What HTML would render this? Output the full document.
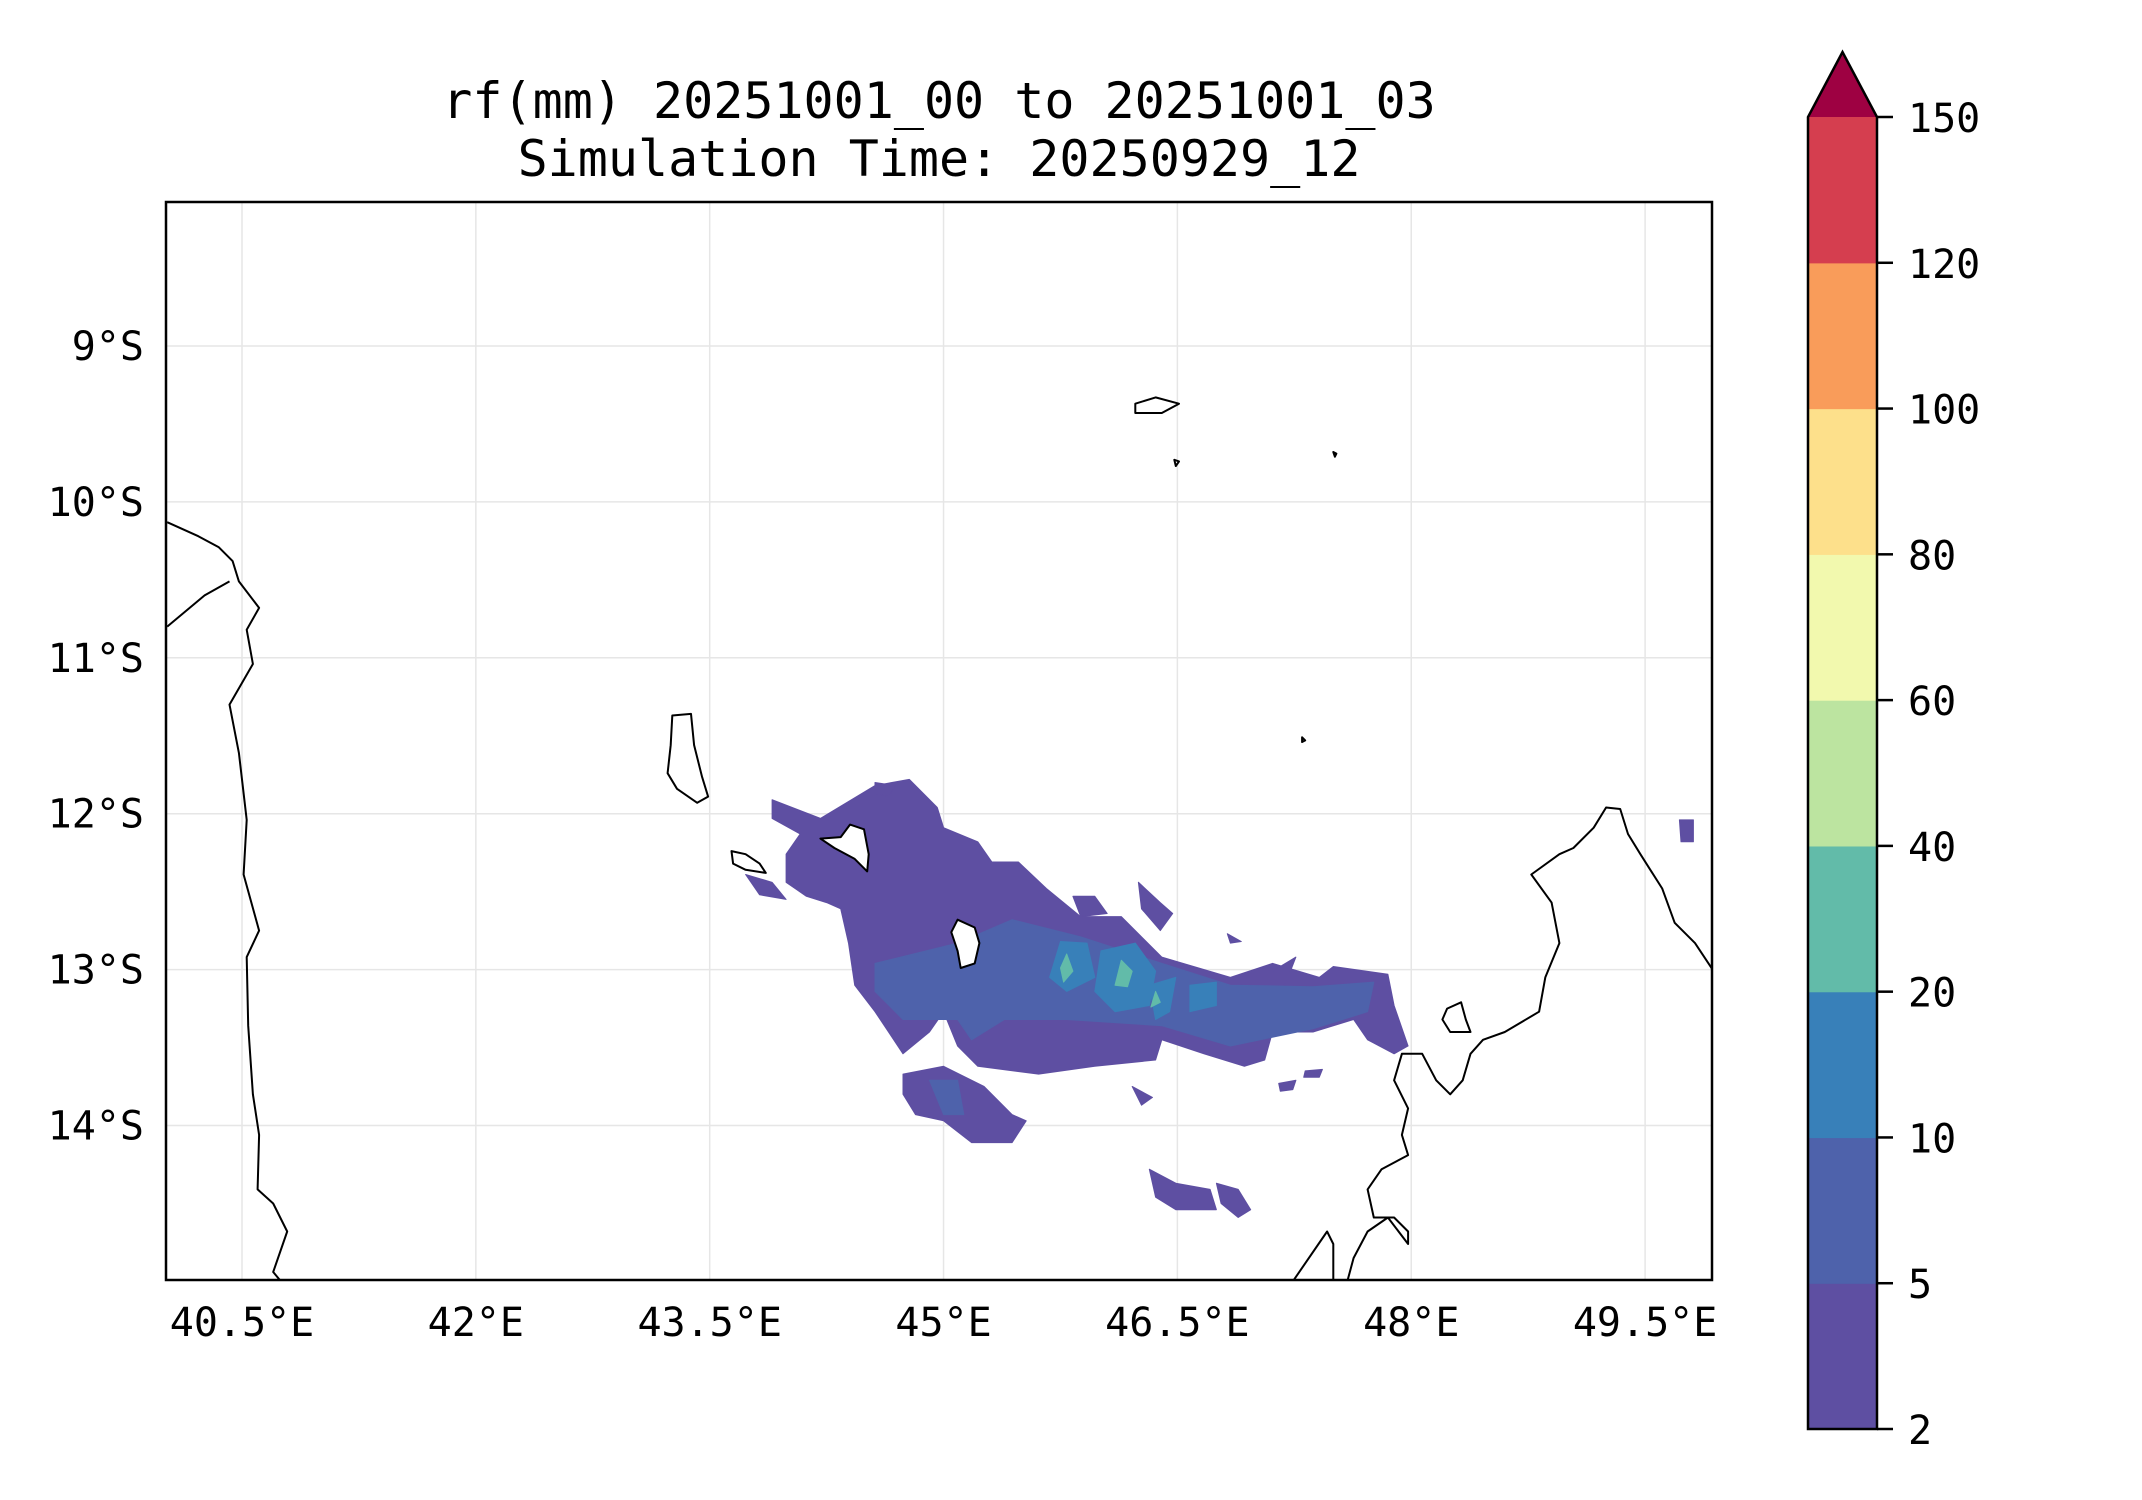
<!DOCTYPE html>
<html><head><meta charset="utf-8"><style>
html,body{margin:0;padding:0;background:#fff;}
svg{display:block;font-family:"DejaVu Sans Mono","Liberation Mono",monospace;}
</style></head><body>
<svg id="fig" width="2142" height="1500" viewBox="0 0 2142 1500" xmlns="http://www.w3.org/2000/svg">
<defs><clipPath id="plotclip"><rect x="166" y="202" width="1546" height="1078"/></clipPath></defs>
<rect x="0" y="0" width="2142" height="1500" fill="#fff"/>
<text x="939" y="118" font-size="50" text-anchor="middle">rf(mm) 20251001_00 to 20251001_03</text>
<text x="939" y="176" font-size="50" text-anchor="middle">Simulation Time: 20250929_12</text>
<g id="grid"></g>
<g id="fills" clip-path="url(#plotclip)"></g>
<g id="coast" clip-path="url(#plotclip)"></g>
<rect x="166" y="202" width="1546" height="1078" fill="none" stroke="#000" stroke-width="2.5"/>
<g id="xticks"></g>
<g id="yticks"></g>
<g id="cbar"></g>
</svg>
<script>
const NS="http://www.w3.org/2000/svg";
const lonTicks=[40.5,42,43.5,45,46.5,48,49.5];
const lonLabels=["40.5°E","42°E","43.5°E","45°E","46.5°E","48°E","49.5°E"];
const latTicks=[9,10,11,12,13,14];
const latLabels=["9°S","10°S","11°S","12°S","13°S","14°S"];
const cbarLevels=[2,5,10,20,40,60,80,100,120,150];
const cbarColors=["#5e4fa2","#4e62ab","#3880b9","#62bba9","#bce4a0","#f2f9ae","#fde08b","#f99c5a","#d53e4f"];
const extendColor="#9e0142";
const rainLevels=[0,0,0,0,0,0,0,0,0,0,0,0,0,0,1,1,2,2,2,2,3,3,3];
const rainPolys=[
[[43.90,11.91],[44.21,12.03],[44.56,11.82],[44.78,11.78],[44.96,11.96],[45.00,12.09],[45.22,12.18],[45.31,12.31],[45.48,12.31],[45.66,12.48],[45.88,12.66],[46.14,12.66],[46.40,12.92],[46.84,13.05],[47.11,12.96],[47.41,13.05],[47.50,12.98],[47.85,13.03],[47.89,13.23],[47.98,13.49],[47.89,13.54],[47.72,13.45],[47.63,13.32],[47.37,13.40],[47.11,13.40],[47.06,13.58],[46.93,13.62],[46.67,13.54],[46.40,13.45],[46.36,13.58],[45.97,13.62],[45.61,13.67],[45.22,13.62],[45.09,13.49],[45.00,13.27],[44.91,13.40],[44.74,13.54],[44.56,13.27],[44.43,13.10],[44.39,12.83],[44.34,12.61],[44.25,12.57],[44.12,12.53],[43.99,12.44],[43.99,12.26],[44.08,12.13],[43.90,12.03]],
[[44.74,13.67],[45.00,13.62],[45.26,13.75],[45.44,13.93],[45.53,13.97],[45.44,14.11],[45.18,14.11],[45.00,13.97],[44.82,13.93],[44.74,13.80]],
[[46.32,14.28],[46.49,14.37],[46.71,14.41],[46.75,14.54],[46.49,14.54],[46.36,14.46]],
[[46.75,14.37],[46.89,14.41],[46.97,14.54],[46.89,14.59],[46.78,14.50]],
[[45.83,12.53],[45.97,12.53],[46.05,12.64],[45.88,12.66]],
[[46.25,12.44],[46.39,12.57],[46.47,12.64],[46.39,12.75],[46.27,12.61]],
[[44.56,11.80],[44.69,11.82],[44.65,11.89],[44.56,11.87]],
[[43.73,12.39],[43.90,12.44],[43.99,12.55],[43.82,12.52]],
[[49.72,12.04],[49.81,12.04],[49.81,12.18],[49.73,12.18]],
[[47.15,13.73],[47.26,13.71],[47.24,13.77],[47.16,13.78]],
[[47.32,13.65],[47.43,13.64],[47.41,13.69],[47.31,13.69]],
[[46.82,12.77],[46.91,12.82],[46.84,12.83]],
[[47.11,13.01],[47.26,12.92],[47.19,13.10]],
[[46.21,13.75],[46.34,13.82],[46.27,13.87]],
[[44.56,12.96],[45.09,12.83],[45.44,12.68],[45.88,12.79],[46.40,12.96],[46.84,13.10],[47.37,13.11],[47.76,13.08],[47.72,13.27],[47.37,13.38],[46.84,13.49],[46.40,13.36],[45.79,13.32],[45.39,13.32],[45.18,13.45],[45.09,13.32],[44.74,13.32],[44.56,13.14]],
[[44.91,13.71],[45.09,13.71],[45.13,13.93],[45.00,13.93]],
[[45.75,12.82],[45.92,12.83],[45.97,13.05],[45.79,13.14],[45.68,13.05]],
[[46.01,12.88],[46.23,12.83],[46.36,13.01],[46.32,13.23],[46.10,13.27],[45.97,13.14]],
[[46.32,13.10],[46.49,13.05],[46.45,13.27],[46.36,13.32]],
[[46.58,13.10],[46.75,13.08],[46.75,13.23],[46.58,13.27]],
[[45.79,12.90],[45.83,13.01],[45.77,13.08],[45.75,12.99]],
[[46.14,12.94],[46.21,13.01],[46.18,13.11],[46.10,13.10]],
[[46.36,13.14],[46.39,13.21],[46.33,13.24]]
];
const islands=[
[[43.26,11.37],[43.38,11.36],[43.40,11.56],[43.45,11.76],[43.49,11.89],[43.42,11.93],[43.29,11.84],[43.23,11.74],[43.25,11.56]],
[[43.64,12.24],[43.73,12.26],[43.82,12.32],[43.86,12.38],[43.73,12.36],[43.65,12.32]],
[[44.21,12.16],[44.34,12.15],[44.40,12.07],[44.49,12.10],[44.52,12.26],[44.51,12.37],[44.43,12.29],[44.30,12.22]],
[[45.09,12.68],[45.20,12.73],[45.23,12.83],[45.20,12.96],[45.11,12.99],[45.09,12.88],[45.05,12.76]],
[[48.23,13.25],[48.32,13.21],[48.35,13.32],[48.38,13.40],[48.25,13.40],[48.20,13.32]],
[[46.23,9.37],[46.36,9.33],[46.51,9.37],[46.40,9.43],[46.23,9.43]],
[[46.48,9.73],[46.51,9.74],[46.49,9.77]],
[[47.50,9.68],[47.52,9.69],[47.51,9.71]],
[[47.30,11.51],[47.32,11.53],[47.30,11.54]]
];
const coastLines=[
[[40.02,10.13],[40.22,10.22],[40.35,10.29],[40.44,10.38],[40.48,10.51],[40.61,10.68],[40.53,10.82],[40.57,11.04],[40.42,11.30],[40.48,11.61],[40.53,12.04],[40.51,12.39],[40.61,12.75],[40.53,12.92],[40.54,13.36],[40.57,13.80],[40.61,14.06],[40.60,14.41],[40.70,14.50],[40.79,14.68],[40.70,14.94],[40.75,15.00]],
[[40.02,10.80],[40.26,10.60],[40.42,10.51]],
[[49.94,13.01],[49.82,12.83],[49.69,12.70],[49.61,12.48],[49.47,12.26],[49.39,12.13],[49.34,11.97],[49.25,11.96],[49.17,12.09],[49.04,12.22],[48.95,12.26],[48.77,12.39],[48.90,12.57],[48.95,12.83],[48.86,13.05],[48.82,13.27],[48.60,13.40],[48.46,13.45],[48.38,13.54],[48.33,13.71],[48.25,13.80],[48.16,13.71],[48.07,13.54],[47.94,13.54],[47.89,13.71],[47.98,13.89],[47.94,14.06],[47.98,14.19],[47.81,14.28],[47.72,14.41],[47.76,14.59],[47.89,14.59],[47.98,14.68],[47.98,14.76],[47.85,14.59],[47.72,14.68],[47.63,14.85],[47.59,15.00]],
[[47.24,15.00],[47.46,14.68],[47.50,14.76],[47.50,15.00]]
];
const x0=242,pxPerDeg=155.9;
function xs(lon){return x0+(lon-40.5)*pxPerDeg;}
function ys(lat){return 346+(lat-9)*pxPerDeg;}
function pts(p){return p.map(q=>xs(q[0]).toFixed(1)+","+ys(q[1]).toFixed(1)).join(" ");}
function mk(tag,attrs,parent){const e=document.createElementNS(NS,tag);for(const k in attrs)e.setAttribute(k,attrs[k]);parent.appendChild(e);return e;}
const grid=document.getElementById("grid");
lonTicks.forEach(v=>{const l=mk("line",{x1:xs(v),x2:xs(v),y1:202,y2:1280,stroke:"#e6e6e6","stroke-width":1.5},grid);

});
latTicks.forEach(v=>{const l=mk("line",{x1:166,x2:1712,y1:ys(v),y2:ys(v),stroke:"#e6e6e6","stroke-width":1.5},grid);

});
const fills=document.getElementById("fills");
rainPolys.forEach((p,i)=>{const e=mk("polygon",{points:pts(p),fill:cbarColors[rainLevels[i]],stroke:cbarColors[rainLevels[i]],"stroke-width":1,"stroke-linejoin":"round"},fills);

});
const coast=document.getElementById("coast");
islands.forEach(p=>{const e=mk("polygon",{points:pts(p),fill:"#fff",stroke:"#000","stroke-width":2,"stroke-linejoin":"round"},coast);

});
coastLines.forEach(p=>{const e=mk("polyline",{points:pts(p),fill:"none",stroke:"#000","stroke-width":2,"stroke-linejoin":"round"},coast);

});
const xt=document.getElementById("xticks");
lonTicks.forEach((v,i)=>{const t=mk("text",{x:xs(v),y:1336,"font-size":40,"text-anchor":"middle"},xt);t.textContent=lonLabels[i];

});
const yt=document.getElementById("yticks");
latTicks.forEach((v,i)=>{const t=mk("text",{x:144,y:ys(v)+14,"font-size":40,"text-anchor":"end"},yt);t.textContent=latLabels[i];

});
const cb=document.getElementById("cbar");
const cbx=1808,cbw=69,cbTop=117,cbBot=1429,n=cbarLevels.length-1,step=(cbBot-cbTop)/n;
cbarColors.forEach((c,i)=>{const r=mk("rect",{x:cbx,y:cbBot-(i+1)*step,width:cbw,height:step+0.6,fill:c},cb);

});
const tri=mk("polygon",{points:`${cbx},${cbTop} ${cbx+cbw/2},52 ${cbx+cbw},${cbTop}`,fill:extendColor},cb);


const outline=mk("path",{d:`M${cbx},${cbBot} L${cbx},${cbTop} L${cbx+cbw/2},52 L${cbx+cbw},${cbTop} L${cbx+cbw},${cbBot} Z`,fill:"none",stroke:"#000","stroke-width":2.5},cb);


cbarLevels.forEach((v,i)=>{const y=cbBot-i*step;
const l=mk("line",{x1:cbx+cbw,x2:cbx+cbw+16,y1:y,y2:y,stroke:"#000","stroke-width":2.5},cb);


const t=mk("text",{x:1908,y:y+15,"font-size":40},cb);t.textContent=v;

});
</script>
</body></html>
